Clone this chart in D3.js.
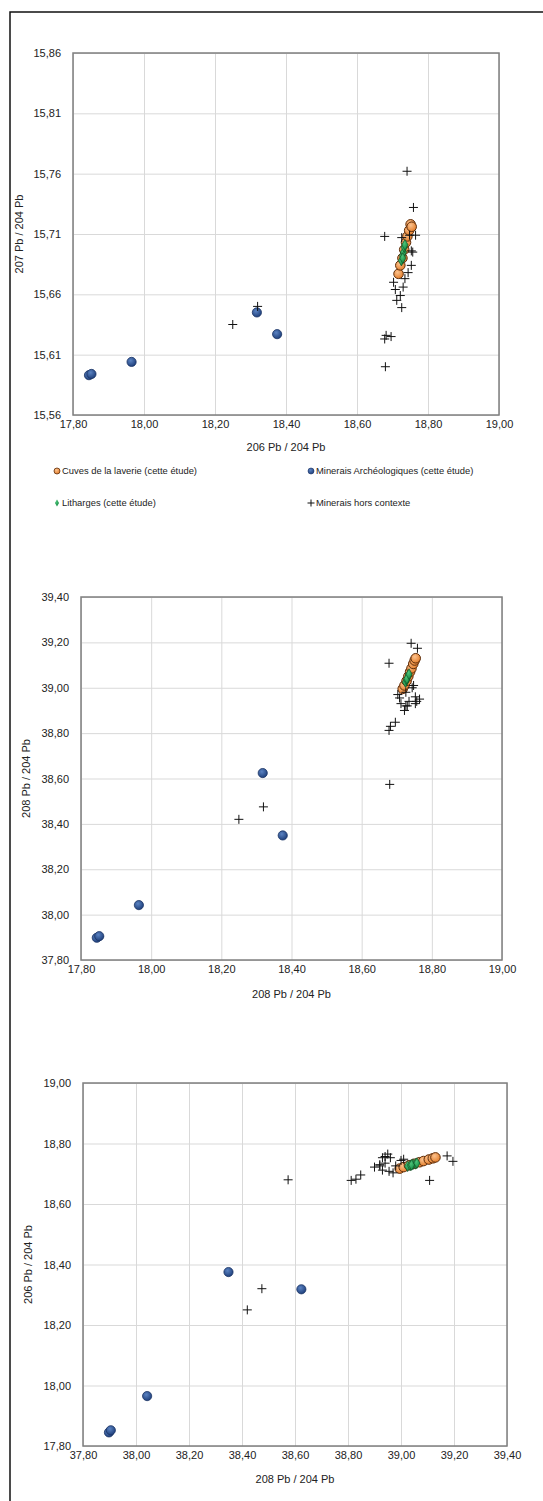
<!DOCTYPE html>
<html>
<head>
<meta charset="utf-8">
<script src="https://cdn.jsdelivr.net/npm/d3@7"></script>
<style>
  body { margin: 0; background: #fff; }
  svg text { font-family: "Liberation Sans Narrow", "Arial Narrow", "Liberation Sans", Arial, sans-serif; fill: #222; }
  .grid line { stroke: #d9d9d9; stroke-width: 1; }
  .grid path { display: none; }
  .ax path, .ax line { display: none; }
</style>
</head>
<body>
<div id="chart"></div>
<script>
// ---- data : 206Pb/204Pb, 207Pb/204Pb, 208Pb/204Pb ----
var cuves206 = [18.717, 18.722, 18.728, 18.733, 18.738, 18.742, 18.747, 18.751, 18.754];
var cuves207 = [15.677, 15.684, 15.690, 15.697, 15.703, 15.708, 15.713, 15.718, 15.716];
var cuves208 = [38.995, 39.010, 39.030, 39.050, 39.070, 39.085, 39.105, 39.120, 39.130];

var minArch206 = [17.845, 17.852, 17.965, 18.318, 18.375];
var minArch207 = [15.593, 15.594, 15.604, 15.645, 15.627];
var minArch208 = [37.898, 37.905, 38.042, 38.624, 38.349];

var lith206 = [18.725, 18.728, 18.731, 18.733, 18.729, 18.735];
var lith207 = [15.688, 15.692, 15.695, 15.699, 15.690, 15.701];
var lith208 = [39.025, 39.035, 39.045, 39.055, 39.040, 39.060];

var horsCtx206 = [18.250, 18.320, 18.680, 18.678, 18.678, 18.682, 18.696, 18.741, 18.759,
                  18.726, 18.748, 18.765, 18.753, 18.757, 18.753, 18.744, 18.735, 18.703,
                  18.708, 18.730, 18.722, 18.712, 18.726];
var horsCtx207 = [15.635, 15.650, 15.600, 15.708, 15.623, 15.626, 15.625, 15.762, 15.732,
                  15.707, 15.709, 15.709, 15.696, 15.695, 15.684, 15.678, 15.673, 15.670,
                  15.664, 15.666, 15.659, 15.655, 15.649];
var horsCtx208 = [38.420, 38.475, 38.574, 39.108, 38.812, 38.830, 38.848, 39.196, 39.174,
                  38.980, 39.010, 38.950, 38.960, 38.940, 38.930, 39.000, 38.940, 38.970,
                  38.955, 38.920, 38.900, 38.930, 38.920];

var ticks206 = [17.8, 18.0, 18.2, 18.4, 18.6, 18.8, 19.0];
var ticks207 = [15.56, 15.61, 15.66, 15.71, 15.76, 15.81, 15.86];
var ticks208 = [37.8, 38.0, 38.2, 38.4, 38.6, 38.8, 39.0, 39.2, 39.4];

var legendLabels = ["Cuves de la laverie (cette étude)", "Minerais Archéologiques (cette étude)",
                    "Litharges (cette étude)", "Minerais hors contexte"];

function rows(a, b, c) { return a.map(function(v, i) { return {r206: v, r207: b[i], r208: c[i]}; }); }
var cuves = rows(cuves206, cuves207, cuves208);
var minArch = rows(minArch206, minArch207, minArch208);
var lith = rows(lith206, lith207, lith208);
var horsCtx = rows(horsCtx206, horsCtx207, horsCtx208);

var fr = d3.formatLocale({decimal: ",", thousands: " ", grouping: [3], currency: ["", " €"]});
var fmt = fr.format(".2f");

var svg = d3.select("#chart").append("svg")
    .attr("width", 543).attr("height", 1501);

var defs = svg.append("defs");
function grad(id, c0, c1) {
  var g = defs.append("radialGradient").attr("id", id)
      .attr("cx", "40%").attr("cy", "35%").attr("r", "65%");
  g.append("stop").attr("offset", "0%").attr("stop-color", c0);
  g.append("stop").attr("offset", "100%").attr("stop-color", c1);
}
grad("gOrange", "#fbc28e", "#e57f2c");
grad("gBlue", "#5b83c2", "#1f407c");
grad("gGreen", "#4cc47a", "#13893f");

// outer frame
svg.append("path")
    .attr("d", "M10,1501V12H543")
    .attr("fill", "none").attr("stroke", "#111").attr("stroke-width", 1.5);

var crossPath = "M-4.5,0H4.5M0,-4.5V4.5";

function scatter(o) {
  var w = o.right - o.left, h = o.bottom - o.top;
  var g = svg.append("g").attr("transform", "translate(" + o.left + "," + o.top + ")");
  var x = d3.scaleLinear().domain(d3.extent(o.xTicks)).range([0, w]);
  var y = d3.scaleLinear().domain(d3.extent(o.yTicks)).range([h, 0]);

  g.append("g").attr("class", "grid")
      .call(d3.axisBottom(x).tickValues(o.xTicks).tickSize(h).tickFormat(""));
  g.append("g").attr("class", "grid")
      .call(d3.axisLeft(y).tickValues(o.yTicks).tickSize(-w).tickFormat(""));

  g.append("rect").attr("width", w).attr("height", h)
      .attr("fill", "none").attr("stroke", "#7f7f7f").attr("stroke-width", 1.5);

  var xa = g.append("g").attr("class", "ax").attr("transform", "translate(0," + h + ")")
      .call(d3.axisBottom(x).tickValues(o.xTicks).tickFormat(fmt).tickSize(0).tickPadding(5));
  xa.selectAll("text").style("font-size", "11px").attr("fill", "#222");
  var ya = g.append("g").attr("class", "ax")
      .call(d3.axisLeft(y).tickValues(o.yTicks).tickFormat(fmt).tickSize(0).tickPadding(o.yPad));
  ya.selectAll("text").style("font-size", "11px").attr("fill", "#222");

  g.append("text").attr("x", w / 2).attr("y", h + o.xTitleDy)
      .attr("text-anchor", "middle").style("font-size", "11px").text(o.xTitle);
  g.append("text").attr("transform", "translate(" + o.yTitleDx + "," + (h / 2) + ") rotate(-90)")
      .attr("text-anchor", "middle").style("font-size", "11px").text(o.yTitle);

  var px = function(d) { return x(d[o.xKey]); };
  var py = function(d) { return y(d[o.yKey]); };

  g.selectAll(".cuve").data(cuves).enter().append("circle")
      .attr("cx", px).attr("cy", py).attr("r", 4.8)
      .attr("fill", "url(#gOrange)").attr("stroke", "#5e2e0c").attr("stroke-width", 1);
  g.selectAll(".arch").data(minArch).enter().append("circle")
      .attr("cx", px).attr("cy", py).attr("r", 4.6)
      .attr("fill", "url(#gBlue)").attr("stroke", "#1a3364").attr("stroke-width", 0.8);
  g.selectAll(".lith").data(lith).enter().append("path")
      .attr("transform", function(d) { return "translate(" + px(d) + "," + py(d) + ")"; })
      .attr("d", d3.symbol(d3.symbolDiamond, 34))
      .attr("fill", "url(#gGreen)").attr("stroke", "#0d4a22").attr("stroke-width", 0.6);
  g.selectAll(".hors").data(horsCtx).enter().append("path")
      .attr("transform", function(d) { return "translate(" + px(d) + "," + py(d) + ")"; })
      .attr("d", crossPath)
      .attr("fill", "none").attr("stroke", "#111").attr("stroke-width", 1);
  return g;
}

scatter({left: 73, top: 53, right: 499, bottom: 415,
  xTicks: ticks206, yTicks: ticks207, xKey: "r206", yKey: "r207",
  xTitle: "206 Pb / 204 Pb", yTitle: "207 Pb / 204 Pb",
  xTitleDy: 36, yTitleDx: -50, yPad: 12});

// legend under the first chart
var legendPos = [[57, 471], [311, 471], [57, 503], [311, 503]];
var leg = svg.append("g");
legendLabels.forEach(function(lab, i) {
  var p = legendPos[i];
  if (i === 0) leg.append("circle").attr("cx", p[0]).attr("cy", p[1]).attr("r", 3)
      .attr("fill", "url(#gOrange)").attr("stroke", "#5e2e0c").attr("stroke-width", 0.8);
  if (i === 1) leg.append("circle").attr("cx", p[0]).attr("cy", p[1]).attr("r", 3)
      .attr("fill", "url(#gBlue)").attr("stroke", "#1a3364").attr("stroke-width", 0.6);
  if (i === 2) leg.append("path").attr("transform", "translate(" + p + ")")
      .attr("d", d3.symbol(d3.symbolDiamond, 14)).attr("fill", "url(#gGreen)");
  if (i === 3) leg.append("path").attr("transform", "translate(" + p + ")")
      .attr("d", "M-3.5,0H3.5M0,-3.5V3.5").attr("stroke", "#111").attr("fill", "none");
  leg.append("text").attr("x", p[0] + 5).attr("y", p[1] + 3.3)
      .style("font-size", "9.4px").text(lab);
});

scatter({left: 81, top: 597, right: 502, bottom: 960,
  xTicks: ticks206, yTicks: ticks208, xKey: "r206", yKey: "r208",
  xTitle: "208 Pb / 204 Pb", yTitle: "208 Pb / 204 Pb",
  xTitleDy: 38, yTitleDx: -51, yPad: 12});

scatter({left: 83, top: 1083, right: 507, bottom: 1446,
  xTicks: ticks208, yTicks: ticks206, xKey: "r208", yKey: "r206",
  xTitle: "208 Pb / 204 Pb", yTitle: "206 Pb / 204 Pb",
  xTitleDy: 37, yTitleDx: -51, yPad: 12});
</script>
</body>
</html>
